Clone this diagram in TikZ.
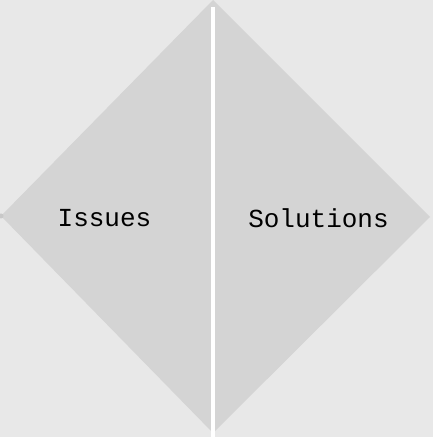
\documentclass[tikz,border=0pt]{standalone}
\usepackage{fontspec}
\setmonofont{Liberation Mono}
\usepackage{tikz}
\definecolor{bggray}{HTML}{E8E8E8}
\definecolor{halfgray}{HTML}{D4D4D4}
\definecolor{tipgray}{HTML}{C8C8C8}
\tikzset{
  half/.style={fill=halfgray, draw=none},
  label/.style={font=\ttfamily\fontsize{26}{26}\selectfont, text=black, inner sep=0pt},
  divider/.style={draw=white, line width=4pt}
}

\begin{document}
\begin{tikzpicture}[x=1pt,y=1pt]
    \fill [bggray] (0,0) rectangle (433,437);
    \useasboundingbox (0,0) rectangle (433,437);
    \coordinate (top) at (213,437);
    \coordinate (left) at (1,221);
    \coordinate (right) at (430,220);
    \coordinate (bottom) at (213,4);
    \coordinate (cut top) at (213,430);
    \coordinate (cut bottom) at (213,0);
    \fill [half] (top)--(left)--(bottom)--cycle;
    \fill [half] (top)--(right)--(bottom)--cycle;
    \fill [tipgray] (left) circle (2.5);
    \draw [divider] (cut top)--(cut bottom);
    \node (issues) at (104.5,219) [label] {Issues};
    \node (solutions) at (318.5,219) [label] {Solutions};
  \end{tikzpicture}
\end{document}
